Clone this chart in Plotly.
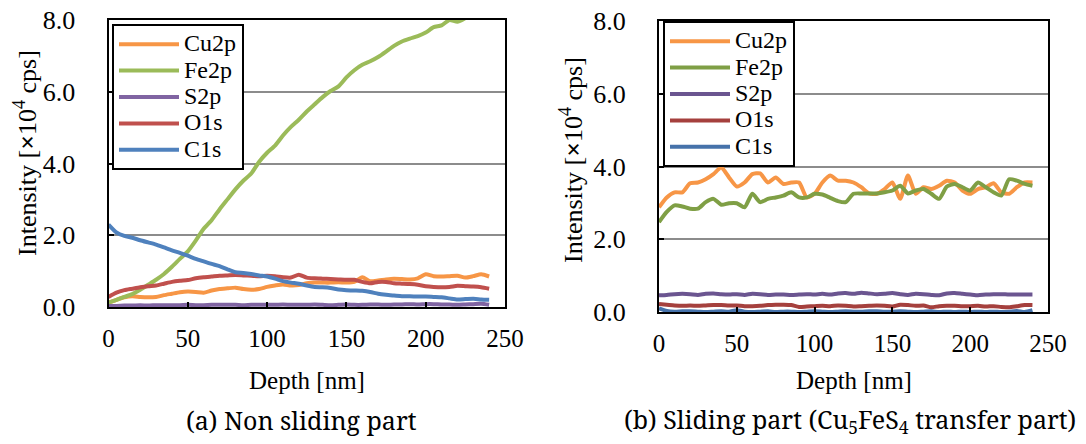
import plotly.graph_objects as go

W, H = 1086, 444

depth = list(range(0, 245, 5))
series_names = ["Cu2p", "Fe2p", "S2p", "O1s", "C1s"]
colors_a = ["#F79646", "#9BBB59", "#8064A2", "#C0504D", "#4F81BD"]
colors_b = ["#F79646", "#7F9F45", "#6B5590", "#A5403D", "#4672AA"]

# (a) Non sliding part
a_cu2p = [0.12, 0.20, 0.27, 0.30, 0.28, 0.27, 0.28, 0.33, 0.37, 0.41, 0.43, 0.42, 0.40, 0.46, 0.50, 0.52,
          0.54, 0.50, 0.48, 0.50, 0.56, 0.60, 0.63, 0.60, 0.61, 0.66, 0.68, 0.68, 0.68, 0.69, 0.68, 0.70,
          0.83, 0.72, 0.74, 0.77, 0.79, 0.78, 0.77, 0.80, 0.91, 0.86, 0.85, 0.86, 0.87, 0.82, 0.86, 0.91, 0.85]
a_fe2p = [0.12, 0.20, 0.28, 0.36, 0.48, 0.62, 0.76, 0.92, 1.12, 1.34, 1.55, 1.85, 2.18, 2.42, 2.72, 3.00,
          3.28, 3.52, 3.72, 4.05, 4.30, 4.50, 4.78, 5.02, 5.22, 5.45, 5.65, 5.85, 6.02, 6.15, 6.40, 6.60,
          6.75, 6.85, 6.97, 7.12, 7.28, 7.40, 7.48, 7.55, 7.65, 7.80, 7.85, 8.00, 7.95, 8.05, 8.15, 8.25, 8.35]
a_s2p = [0.03, 0.03, 0.04, 0.04, 0.05, 0.04, 0.05, 0.05, 0.05, 0.05, 0.06, 0.05, 0.05, 0.06, 0.06, 0.06,
         0.06, 0.05, 0.06, 0.06, 0.06, 0.06, 0.07, 0.06, 0.06, 0.06, 0.07, 0.06, 0.05, 0.06, 0.07, 0.06,
         0.06, 0.07, 0.07, 0.06, 0.07, 0.07, 0.08, 0.07, 0.08, 0.08, 0.07, 0.07, 0.06, 0.07, 0.08, 0.09, 0.06]
a_o1s = [0.28, 0.40, 0.47, 0.51, 0.55, 0.58, 0.60, 0.65, 0.70, 0.73, 0.75, 0.80, 0.83, 0.85, 0.87, 0.88,
         0.89, 0.88, 0.87, 0.86, 0.87, 0.86, 0.83, 0.82, 0.90, 0.82, 0.80, 0.79, 0.78, 0.77, 0.76, 0.76,
         0.70, 0.66, 0.70, 0.70, 0.66, 0.65, 0.64, 0.62, 0.58, 0.56, 0.55, 0.56, 0.59, 0.58, 0.57, 0.55, 0.51]
a_c1s = [2.30, 2.08, 1.98, 1.93, 1.86, 1.80, 1.74, 1.66, 1.58, 1.51, 1.43, 1.34, 1.27, 1.20, 1.14, 1.05,
         0.97, 0.95, 0.92, 0.88, 0.85, 0.79, 0.72, 0.68, 0.65, 0.60, 0.56, 0.55, 0.53, 0.49, 0.47, 0.46,
         0.45, 0.42, 0.37, 0.34, 0.32, 0.30, 0.30, 0.29, 0.29, 0.28, 0.27, 0.24, 0.21, 0.22, 0.23, 0.21, 0.20]

# (b) Sliding part
b_cu2p = [2.88, 3.15, 3.29, 3.29, 3.54, 3.56, 3.65, 3.79, 3.97, 3.70, 3.45, 3.56, 3.79, 3.81, 3.56, 3.70,
          3.52, 3.56, 3.56, 3.15, 3.25, 3.56, 3.75, 3.61, 3.61, 3.56, 3.43, 3.26, 3.25, 3.38, 3.56, 3.11,
          3.75, 3.25, 3.43, 3.38, 3.47, 3.61, 3.56, 3.34, 3.25, 3.38, 3.43, 3.54, 3.29, 3.25, 3.43, 3.56, 3.56]
b_fe2p = [2.47, 2.75, 2.93, 2.90, 2.84, 2.84, 3.02, 3.11, 2.95, 2.99, 2.99, 2.88, 3.25, 3.02, 3.11, 3.15,
          3.20, 3.29, 3.15, 3.15, 3.25, 3.23, 3.14, 3.05, 3.02, 3.25, 3.26, 3.26, 3.26, 3.29, 3.34, 3.47,
          3.26, 3.34, 3.38, 3.25, 3.11, 3.45, 3.52, 3.43, 3.34, 3.56, 3.43, 3.29, 3.20, 3.65, 3.61, 3.52, 3.47]
b_s2p = [0.46, 0.47, 0.49, 0.50, 0.49, 0.47, 0.50, 0.51, 0.49, 0.48, 0.49, 0.47, 0.50, 0.49, 0.47, 0.48,
         0.48, 0.47, 0.48, 0.49, 0.48, 0.50, 0.48, 0.51, 0.52, 0.50, 0.53, 0.51, 0.49, 0.50, 0.52, 0.49,
         0.47, 0.50, 0.49, 0.47, 0.46, 0.51, 0.52, 0.50, 0.48, 0.46, 0.48, 0.49, 0.49, 0.48, 0.48, 0.48, 0.48]
b_o1s = [0.22, 0.20, 0.18, 0.17, 0.18, 0.17, 0.18, 0.19, 0.19, 0.18, 0.18, 0.16, 0.16, 0.17, 0.19, 0.20,
         0.20, 0.19, 0.14, 0.15, 0.16, 0.17, 0.16, 0.18, 0.17, 0.15, 0.16, 0.17, 0.18, 0.17, 0.15, 0.20,
         0.19, 0.17, 0.18, 0.13, 0.16, 0.17, 0.17, 0.16, 0.16, 0.17, 0.15, 0.16, 0.14, 0.13, 0.16, 0.19, 0.19]
b_c1s = [0.10, 0.03, 0.01, 0.02, 0.02, 0.01, 0.00, 0.01, 0.02, 0.01, 0.05, 0.01, 0.00, 0.01, 0.02, 0.00,
         0.01, 0.01, 0.00, 0.01, 0.02, 0.01, 0.00, 0.01, 0.02, 0.01, 0.01, 0.02, 0.02, 0.01, 0.01, 0.02,
         0.01, 0.00, 0.01, 0.02, 0.00, 0.01, 0.00, 0.01, 0.00, 0.01, 0.00, 0.01, 0.00, 0.01, 0.03, 0.00, 0.05]

x_ticks = [0, 50, 100, 150, 200, 250]
y_ticks = [0, 2, 4, 6, 8]
y_ticklabels = ["0.0", "2.0", "4.0", "6.0", "8.0"]

panel_a = [a_cu2p, a_fe2p, a_s2p, a_o1s, a_c1s]
panel_b = [b_cu2p, b_fe2p, b_s2p, b_o1s, b_c1s]

SERIF = "Liberation Serif"
CAPTION_FONT = "Noto Serif"
LEGEND_TEXT = "<span style='font-size:24px'>{}</span>"

fig = go.Figure()
for name, color, ys in zip(series_names, colors_a, panel_a):
    fig.add_trace(go.Scatter(x=depth, y=ys, mode="lines",
                             line=dict(color=color, width=4, shape="spline", smoothing=0.6),
                             name=LEGEND_TEXT.format(name), xaxis="x", yaxis="y", legend="legend"))
for name, color, ys in zip(series_names, colors_b, panel_b):
    fig.add_trace(go.Scatter(x=depth, y=ys, mode="lines",
                             line=dict(color=color, width=4, shape="spline", smoothing=0.6),
                             name=LEGEND_TEXT.format(name), xaxis="x2", yaxis="y2", legend="legend2"))

def px_x(p):
    return p / W

def px_y(p):
    return (H - p) / H

xa = dict(range=[0, 250], tickvals=x_ticks, ticks="inside", ticklen=5, tickwidth=1.5, tickcolor="black",
          showline=True, linecolor="black", linewidth=2, mirror=True, showgrid=False, zeroline=False,
          automargin=False, ticklabeloverflow="allow",
          tickfont=dict(family=SERIF, size=25, color="black"), ticklabelstandoff=8)
ya = dict(range=[0, 8], tickvals=y_ticks, ticktext=y_ticklabels, ticks="inside", ticklen=5, tickwidth=1.5,
          tickcolor="black", showline=True, linecolor="black", linewidth=2, mirror=True,
          showgrid=True, gridcolor="#8c8c8c", gridwidth=1.5, zeroline=False, automargin=False,
          ticklabeloverflow="allow",
          tickfont=dict(family=SERIF, size=26, color="black"), ticklabelstandoff=26)

legend_common = dict(bgcolor="white", bordercolor="black", borderwidth=2,
                     font=dict(family=SERIF, size=18, color="black"),
                     itemwidth=60, xanchor="left", yanchor="top", tracegroupgap=0)

fig.update_layout(
    width=W, height=H, margin=dict(l=0, r=0, t=0, b=0, pad=0, autoexpand=False),
    paper_bgcolor="white", plot_bgcolor="white", showlegend=True,
    xaxis=dict(xa, domain=[px_x(108.5), px_x(505)], anchor="y"),
    yaxis=dict(ya, domain=[px_y(307), px_y(20)], anchor="x"),
    xaxis2=dict(xa, domain=[px_x(659), px_x(1048)], anchor="y2"),
    yaxis2=dict(ya, domain=[px_y(312), px_y(21)], anchor="x2"),
    legend=dict(legend_common, x=px_x(112), y=px_y(24)),
    legend2=dict(legend_common, x=px_x(663), y=px_y(21)),
)

ytitle = "Intensity [<b>×</b>10<sup>4</sup> cps]"
annots = [
    dict(text="Depth [nm]", x=px_x(306.7), y=px_y(380), font=dict(family=SERIF, size=25)),
    dict(text="Depth [nm]", x=px_x(853.5), y=px_y(380), font=dict(family=SERIF, size=25)),
    dict(text=ytitle, x=px_x(25), y=px_y(153), textangle=-90, font=dict(family=SERIF, size=26)),
    dict(text=ytitle, x=px_x(571), y=px_y(160), textangle=-90, font=dict(family=SERIF, size=26)),
    dict(text="(a) Non sliding part", x=px_x(301), y=px_y(420), font=dict(family=CAPTION_FONT, size=25)),
    dict(text="(b) Sliding part (Cu<sub>5</sub>FeS<sub>4</sub> transfer part)", x=px_x(850), y=px_y(420),
         font=dict(family=CAPTION_FONT, size=25)),
]
for a in annots:
    a.update(xref="paper", yref="paper", showarrow=False, xanchor="center", yanchor="middle")
    a["font"]["color"] = "black"
fig.update_layout(annotations=annots)

# remove the browser's default 8 px page margin so the figure fills the window
fig.write_html("out.html", config={"displayModeBar": False},
               post_script="document.body.style.margin='0px';")
